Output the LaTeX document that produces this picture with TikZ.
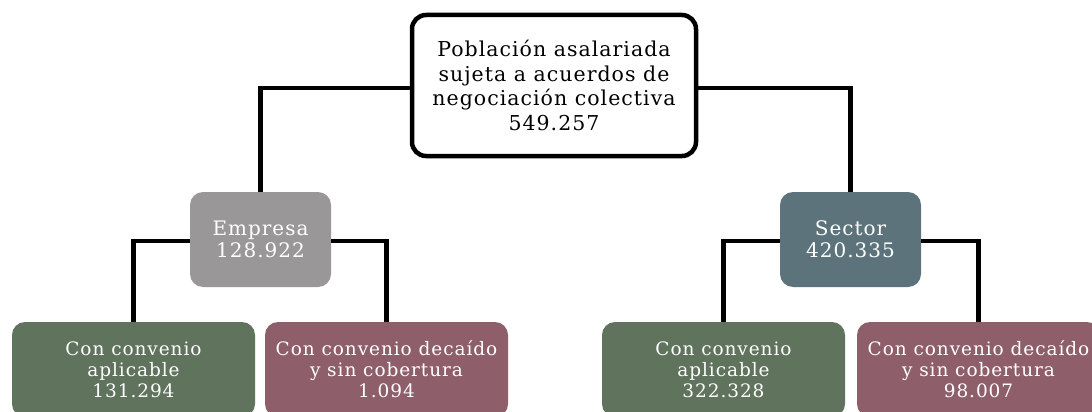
\documentclass[tikz,border=0pt]{standalone}
\usepackage{fontspec}
\setmainfont[LetterSpace=5]{DejaVu Serif}
\usepackage{tikz}
\usetikzlibrary{positioning}

\definecolor{empgray}{HTML}{9A9798}
\definecolor{secslate}{HTML}{5C737C}
\definecolor{convgreen}{HTML}{5F735D}
\definecolor{decred}{HTML}{8E5F6B}

\tikzset{
  topbox/.style={draw=black, line width=4.5pt, rounded corners=14pt, fill=white,
    minimum width=284pt, minimum height=141pt, align=center,
    font=\fontsize{20.5}{24.5}\selectfont},
  midbox/.style={rounded corners=13pt, minimum width=141pt, minimum height=95pt,
    align=center, text=white, font=\fontsize{20}{22}\selectfont},
  leafbox/.style={rounded corners=13pt, minimum width=243pt, minimum height=95pt,
    align=center, text=white, font=\fontsize{18.5}{21}\selectfont},
  link/.style={draw=black, line width=4.5pt}
}

\begin{document}
\begin{tikzpicture}[x=1pt,y=-1pt]
\useasboundingbox (0,0) rectangle (1092,412);

\coordinate (topL) at (410,88);
\coordinate (topR) at (698,88);

% Connectors (drawn first, boxes cover the ends)
\path (554,85.5) coordinate (topC);
\draw[link] (topL) -| (260.5,192);
\draw[link] (topR) -| (850.5,192);

% Top node
\node[topbox] (top) at (topC) {Población asalariada\\sujeta a acuerdos de\\negociación colectiva\\549.257};

% Second level
\node[midbox, fill=empgray] (emp) at (260.5,239.5) {Empresa\\128.922};
\node[midbox, fill=secslate] (sec) at (850.5,239.5) {Sector\\420.335};

% Leaves
\node[leafbox, fill=convgreen] (empcon) at (133.5,369.5) {Con convenio\\aplicable\\131.294};
\node[leafbox, fill=decred] (empdec) at (386.5,369.5) {Con convenio decaído\\y sin cobertura\\1.094};
\node[leafbox, fill=convgreen] (seccon) at (723.5,369.5) {Con convenio\\aplicable\\322.328};
\node[leafbox, fill=decred] (secdec) at (978.5,369.5) {Con convenio decaído\\y sin cobertura\\98.007};

% Links from the second level down
\draw[link] ([yshift=-1.5pt]emp.west) -| (empcon.north);
\draw[link] ([yshift=-1.5pt]emp.east) -| (empdec.north);
\draw[link] ([yshift=-1.5pt]sec.west) -| (seccon.north);
\draw[link] ([yshift=-1.5pt]sec.east) -| (secdec.north);
\end{tikzpicture}
\end{document}
